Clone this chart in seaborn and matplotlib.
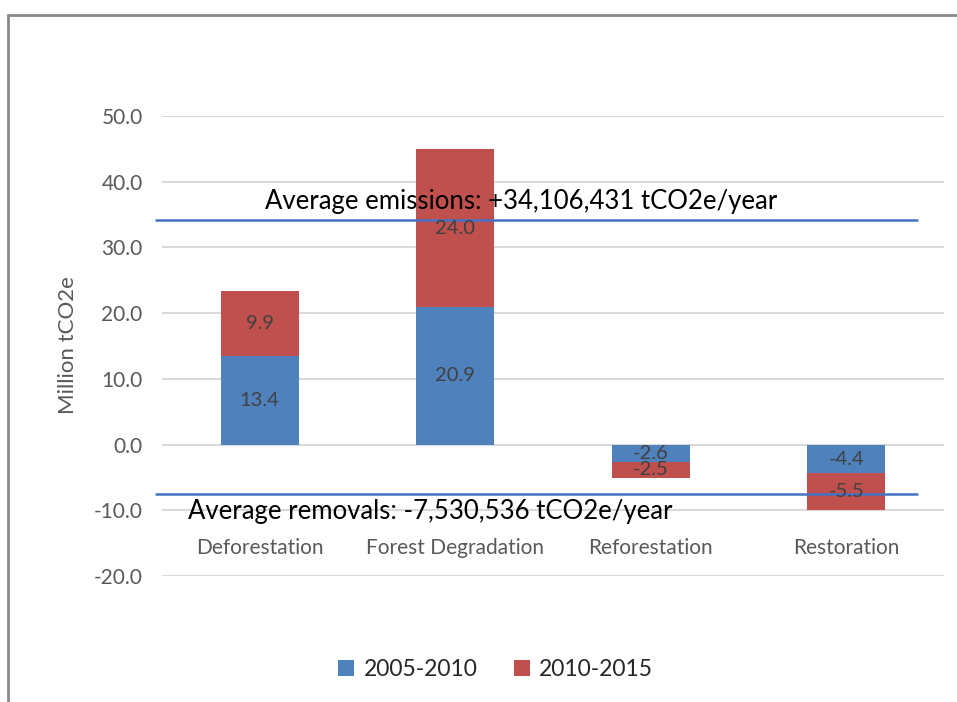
import matplotlib
matplotlib.use("Agg")
import matplotlib.pyplot as plt
from matplotlib.patches import Patch
from matplotlib.lines import Line2D
import seaborn as sns
import pandas as pd

# Emissions and removals by activity (million tCO2e)
categories = ["Deforestation", "Forest Degradation", "Reforestation", "Restoration"]
period_a = [13.4, 20.9, -2.6, -4.4]      # 2005-2010
period_b = [9.9, 24.0, -2.5, -5.5]       # 2010-2015
series_labels = ["2005-2010", "2010-2015"]
avg_emissions = 34.106431                # million tCO2e/year
avg_removals = -7.530536                 # million tCO2e/year
y_ticks = [-20, -10, 0, 10, 20, 30, 40, 50]

BLUE = "#4F81BD"
RED = "#C0504D"
LINE = "#4472C4"
GRID = "#D9D9D9"
TICK = "#595959"
LABEL = "#404040"

sns.set_theme(style="white")
plt.rcParams["font.family"] = ["Lato", "DejaVu Sans"]

df = pd.DataFrame({
    "category": categories,
    "a": period_a,
    "b": period_b,
})
df["total"] = df["a"] + df["b"]

fig = plt.figure(figsize=(9.57, 7.02), dpi=100)
ax = fig.add_axes([0.1693, 0.1795, 0.8171, 0.6553])

# stacked bars: full total in red, first period drawn over it in blue
sns.barplot(data=df, x="category", y="total", order=categories, color=RED,
            width=0.4, saturation=1, ax=ax, zorder=2, linewidth=0)
sns.barplot(data=df, x="category", y="a", order=categories, color=BLUE,
            width=0.4, saturation=1, ax=ax, zorder=3, linewidth=0)

# segment value labels
for i, (a, b) in enumerate(zip(period_a, period_b)):
    ax.text(i, a / 2, f"{a:.1f}", ha="center", va="center",
            fontsize=14.5, color=LABEL, zorder=5)
    ax.text(i, a + b / 2, f"{b:.1f}", ha="center", va="center",
            fontsize=14.5, color=LABEL, zorder=5)

ax.set_xlim(-0.5, 3.5)
ax.set_ylim(-20, 50)
ax.set_yticks(y_ticks)
ax.set_yticklabels([f"{v:.1f}" for v in y_ticks])
ax.yaxis.grid(True, color=GRID, linewidth=1.5, zorder=0)
ax.set_axisbelow(True)
ax.tick_params(axis="y", length=0, pad=14, labelsize=15, labelcolor=TICK)
ax.set_xticks([])
ax.set_xlabel("")
ax.set_ylabel("")
for s in ax.spines.values():
    s.set_visible(False)

# category names sit inside the plot area below the bars
for i, c in enumerate(categories):
    ax.text(i, -15.8, c, ha="center", va="center", fontsize=15, color=TICK)

fig.text(0.071, 0.508, "Million tCO2e", rotation=90, ha="center", va="center",
         fontsize=16, color=TICK)

# average lines
ax.plot([-0.53, 3.36], [avg_emissions, avg_emissions], color=LINE, lw=1.8,
        zorder=4, clip_on=False)
ax.plot([-0.53, 3.36], [avg_removals, avg_removals], color=LINE, lw=1.8,
        zorder=4, clip_on=False)
ax.text(1.336, 37.0, f"Average emissions: +{avg_emissions * 1e6:,.0f} tCO2e/year",
        ha="center", va="center", fontsize=18.5, color="black", zorder=6)
ax.text(0.873, -10.2, f"Average removals: {avg_removals * 1e6:,.0f} tCO2e/year",
        ha="center", va="center", fontsize=18.5, color="black", zorder=6)

handles = [Patch(facecolor=BLUE, edgecolor="none"),
           Patch(facecolor=RED, edgecolor="none")]
fig.legend(handles, series_labels, loc="center", bbox_to_anchor=(0.518, 0.0456),
           ncol=2, frameon=False, fontsize=16.5, handlelength=0.7, handleheight=0.7,
           handletextpad=0.4, columnspacing=1.6)

# chart frame
fig.add_artist(Line2D([8 / 957, 1.0], [1 - 15 / 702, 1 - 15 / 702],
                      transform=fig.transFigure, color="#888888", lw=2))
fig.add_artist(Line2D([8 / 957, 8 / 957], [0.0, 1 - 15 / 702],
                      transform=fig.transFigure, color="#888888", lw=2))

fig.savefig("out.png", dpi=100)
